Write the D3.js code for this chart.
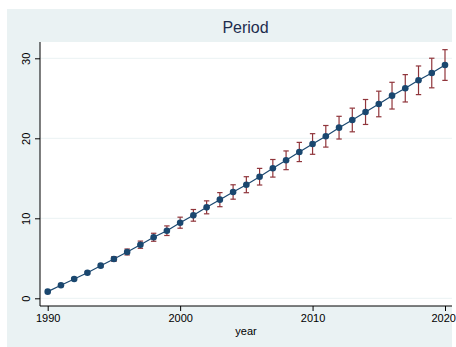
<!DOCTYPE html>
<html>
<head>
<meta charset="utf-8">
<script src="https://cdn.jsdelivr.net/npm/d3@7"></script>
<style>
  html, body { margin: 0; padding: 0; background: #ffffff; }
  svg { display: block; }
</style>
</head>
<body>
<script>
const years = [1990,1991,1992,1993,1994,1995,1996,1997,1998,1999,2000,2001,2002,2003,2004,2005,2006,2007,2008,2009,2010,2011,2012,2013,2014,2015,2016,2017,2018,2019,2020];
const values = [0.83,1.63,2.41,3.2,4.08,4.91,5.79,6.7,7.63,8.45,9.45,10.37,11.37,12.33,13.29,14.2,15.2,16.25,17.25,18.29,19.29,20.25,21.33,22.29,23.29,24.29,25.33,26.25,27.25,28.16,29.16];
const errors = [0.06,0.1,0.13,0.16,0.2,0.3,0.37,0.45,0.5,0.6,0.69,0.73,0.81,0.88,0.9,1.0,1.04,1.1,1.17,1.2,1.29,1.35,1.42,1.48,1.56,1.6,1.67,1.71,1.79,1.85,1.92];
const yTicks = [0,10,20,30];
const xTicks = [1990,2000,2010,2020];
const titleText = "Period";
const xLabel = "year";

const W = 456, H = 347;
const svg = d3.select("body").append("svg").attr("width", W).attr("height", H);

// outer background
svg.append("rect").attr("x", 7).attr("y", 9).attr("width", 452 - 7).attr("height", H - 9).attr("fill", "#eaf2f3");

const plotL = 40, plotT = 42, plotR = 452, plotB = 306;
svg.append("rect").attr("x", plotL).attr("y", plotT).attr("width", plotR - plotL).attr("height", plotB - plotT).attr("fill", "#ffffff");

const x = d3.scaleLinear().domain([1990, 2020]).range([47.7, 445]);
const y = d3.scaleLinear().domain([0, 30]).range([298.3, 58.3]);

// gridlines
svg.append("g").selectAll("line").data(yTicks).join("line")
  .attr("x1", plotL).attr("x2", plotR)
  .attr("y1", d => y(d)).attr("y2", d => y(d))
  .attr("stroke", "#eaf2f3").attr("stroke-width", 1);

// axes
const yAxis = d3.axisLeft(y).tickValues(yTicks).tickSize(5).tickPadding(4).tickFormat(d3.format("d"));
const gy = svg.append("g").attr("transform", `translate(${plotL},0)`).call(yAxis);
gy.select(".domain").remove();
gy.append("line").attr("x1", 0).attr("x2", 0).attr("y1", plotT).attr("y2", plotB).attr("stroke", "#000").attr("stroke-width", 1);
gy.selectAll(".tick line").attr("stroke", "#000");
gy.selectAll(".tick text")
  .attr("font-family", "Arial, 'Liberation Sans', sans-serif").attr("font-size", 11).attr("fill", "#000")
  .attr("text-anchor", "middle").attr("transform", "rotate(-90)")
  .attr("x", 0).attr("y", -10).attr("dy", null);

const xAxis = d3.axisBottom(x).tickValues(xTicks).tickSize(5).tickPadding(3).tickFormat(d3.format("d"));
const gx = svg.append("g").attr("transform", `translate(0,${plotB})`).call(xAxis);
gx.select(".domain").remove();
gx.append("line").attr("x1", plotL).attr("x2", plotR).attr("y1", 0).attr("y2", 0).attr("stroke", "#000").attr("stroke-width", 1);
gx.selectAll(".tick line").attr("stroke", "#000");
gx.selectAll(".tick text").attr("font-family", "Arial, 'Liberation Sans', sans-serif").attr("font-size", 11).attr("fill", "#000")
  .attr("dx", d => d === 2020 ? -1.8 : 0);

// error bars
const data = years.map((yr, i) => ({ yr, v: values[i], e: errors[i] }));
const eb = svg.append("g").attr("stroke", "#90353b").attr("stroke-width", 1.2).attr("fill", "none");
data.forEach(d => {
  const cx = x(d.yr), lo = y(d.v - d.e), hi = y(d.v + d.e);
  eb.append("line").attr("x1", cx).attr("x2", cx).attr("y1", lo).attr("y2", hi);
  eb.append("line").attr("x1", cx - 2.7).attr("x2", cx + 2.7).attr("y1", lo).attr("y2", lo);
  eb.append("line").attr("x1", cx - 2.7).attr("x2", cx + 2.7).attr("y1", hi).attr("y2", hi);
});

// connecting line
svg.append("path").datum(data)
  .attr("d", d3.line().x(d => x(d.yr)).y(d => y(d.v)))
  .attr("fill", "none").attr("stroke", "#1a476f").attr("stroke-width", 1.2);

// markers
svg.append("g").selectAll("circle").data(data).join("circle")
  .attr("cx", d => x(d.yr)).attr("cy", d => y(d.v)).attr("r", 3.3)
  .attr("fill", "#1a476f");

// title
svg.append("text").attr("x", 245.5).attr("y", 33).attr("text-anchor", "middle")
  .attr("font-family", "Arial, 'Liberation Sans', sans-serif").attr("font-size", 16)
  .attr("fill", "#1e2d4e").text(titleText);

// x label
svg.append("text").attr("x", 246).attr("y", 335).attr("text-anchor", "middle")
  .attr("font-family", "Arial, 'Liberation Sans', sans-serif").attr("font-size", 11)
  .attr("fill", "#000").text(xLabel);
</script>
</body>
</html>
